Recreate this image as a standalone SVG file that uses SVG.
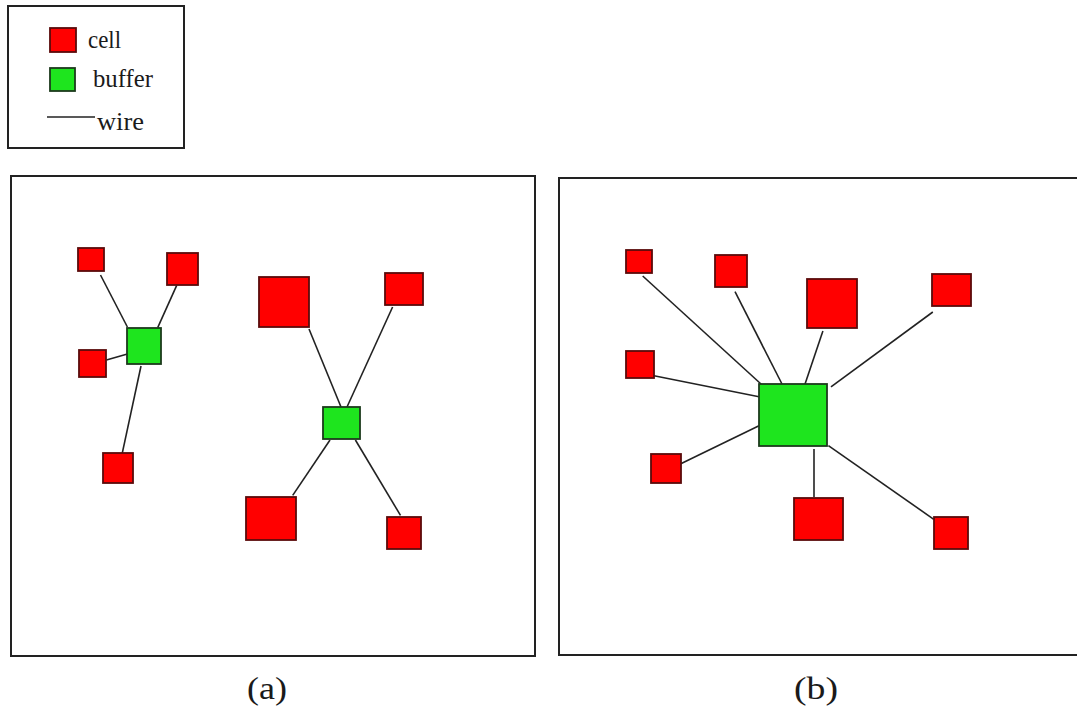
<svg xmlns="http://www.w3.org/2000/svg" width="1077" height="710" viewBox="0 0 1077 710">
<style>
.frame{fill:none;stroke:#222;stroke-width:2}
.cell{fill:#f00;stroke:#5a0a0a;stroke-width:1.8}
.buf{fill:#1ee51e;stroke:#1c3a1c;stroke-width:1.8}
.wire{stroke:#222;stroke-width:1.6;fill:none}
.lbl{font-family:"Liberation Serif","Times New Roman",serif;fill:#1a1a1a}
</style>
<rect width="1077" height="710" fill="#fff"/>
<g id="legend">
<rect class="frame" x="8" y="6" width="176" height="142"/>
<rect class="cell" x="50" y="28" width="26" height="24"/>
<text class="lbl" x="88" y="48" font-size="25" textLength="33" lengthAdjust="spacingAndGlyphs">cell</text>
<rect class="buf" x="50" y="68" width="25" height="23"/>
<text class="lbl" x="93" y="87" font-size="25" textLength="60" lengthAdjust="spacingAndGlyphs">buffer</text>
<line class="wire" x1="47" y1="117" x2="95" y2="117"/>
<text class="lbl" x="97" y="130" font-size="25" textLength="47" lengthAdjust="spacingAndGlyphs">wire</text>
</g>
<g id="panel-a">
<rect class="frame" x="11" y="176" width="524" height="480"/>
<text class="lbl" x="267" y="699" font-size="32" text-anchor="middle" textLength="40" lengthAdjust="spacingAndGlyphs">(a)</text>
</g>
<g id="panel-b">
<rect class="frame" x="559" y="178" width="525" height="477"/>
<text class="lbl" x="816" y="699" font-size="32" text-anchor="middle" textLength="44" lengthAdjust="spacingAndGlyphs">(b)</text>
</g>
<g id="connectors">
<line class="wire" x1="100.5" y1="275" x2="127.4" y2="327"/>
<line class="wire" x1="176.7" y1="285.4" x2="157.7" y2="327.7"/>
<line class="wire" x1="106.4" y1="360" x2="127.4" y2="354"/>
<line class="wire" x1="122" y1="454.4" x2="141" y2="366"/>
<line class="wire" x1="309" y1="329" x2="341" y2="407"/>
<line class="wire" x1="392.6" y1="307" x2="347" y2="407"/>
<line class="wire" x1="292.7" y1="495.4" x2="330" y2="440"/>
<line class="wire" x1="400.5" y1="515.4" x2="355.4" y2="440"/>
<line class="wire" x1="642.7" y1="276" x2="761" y2="384"/>
<line class="wire" x1="735" y1="291.6" x2="782" y2="384"/>
<line class="wire" x1="822.9" y1="331" x2="804.7" y2="385"/>
<line class="wire" x1="932.8" y1="312" x2="831" y2="386.8"/>
<line class="wire" x1="654" y1="375.8" x2="759" y2="396.7"/>
<line class="wire" x1="680.8" y1="463.8" x2="759" y2="425.8"/>
<line class="wire" x1="814" y1="449" x2="814" y2="497"/>
<line class="wire" x1="933.8" y1="519.3" x2="828.4" y2="445.7"/>
</g>
<g id="a-cell1"><rect class="cell" x="78" y="248" width="26" height="23"/></g>
<g id="a-cell2"><rect class="cell" x="167" y="253" width="31" height="32"/></g>
<g id="a-cell3"><rect class="cell" x="79" y="350" width="27" height="27"/></g>
<g id="a-cell4"><rect class="cell" x="103" y="453" width="30" height="30"/></g>
<g id="a-buffer1"><rect class="buf" x="127" y="328" width="34" height="36"/></g>
<g id="a-cell5"><rect class="cell" x="259" y="277" width="50" height="50"/></g>
<g id="a-cell6"><rect class="cell" x="385" y="273" width="38" height="32"/></g>
<g id="a-buffer2"><rect class="buf" x="323" y="407" width="37" height="32"/></g>
<g id="a-cell7"><rect class="cell" x="246" y="497" width="50" height="43"/></g>
<g id="a-cell8"><rect class="cell" x="387" y="517" width="34" height="32"/></g>
<g id="b-cell1"><rect class="cell" x="626" y="250" width="26" height="23"/></g>
<g id="b-cell2"><rect class="cell" x="715" y="255" width="32" height="32"/></g>
<g id="b-cell3"><rect class="cell" x="807" y="279" width="50" height="49"/></g>
<g id="b-cell4"><rect class="cell" x="932" y="274" width="39" height="32"/></g>
<g id="b-cell5"><rect class="cell" x="626" y="351" width="28" height="27"/></g>
<g id="b-cell6"><rect class="cell" x="651" y="454" width="30" height="29"/></g>
<g id="b-buffer"><rect class="buf" x="759" y="384" width="68" height="62"/></g>
<g id="b-cell7"><rect class="cell" x="794" y="498" width="49" height="42"/></g>
<g id="b-cell8"><rect class="cell" x="934" y="517" width="34" height="32"/></g>
</svg>
